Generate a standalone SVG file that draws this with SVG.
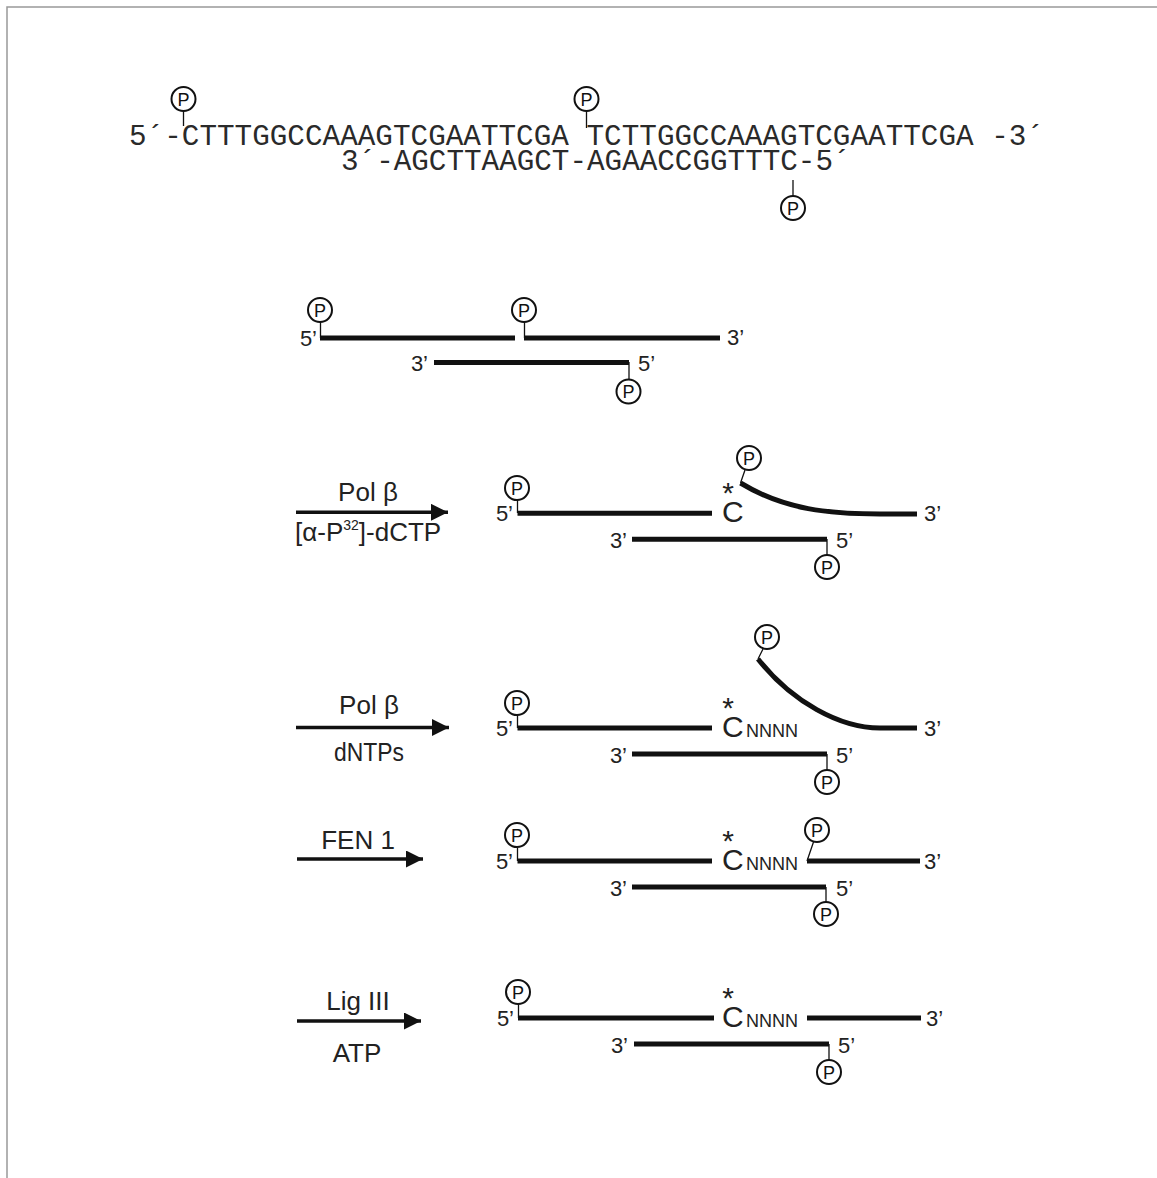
<svg xmlns="http://www.w3.org/2000/svg" xmlns:xlink="http://www.w3.org/1999/xlink" width="1157" height="1178" viewBox="0 0 1157 1178">
<style>
.seq{font-family:"Liberation Mono","Courier New",monospace;font-size:29.3px;fill:#2a2a2a}
.lbl{font-family:"Liberation Sans",Arial,sans-serif;font-size:22px;fill:#222}
.big{font-family:"Liberation Sans",Arial,sans-serif;font-size:26px;fill:#222}
.cc{font-family:"Liberation Sans",Arial,sans-serif;font-size:30px;fill:#222}
.nn{font-family:"Liberation Sans",Arial,sans-serif;font-size:18px;fill:#222}
.ast{font-family:"Liberation Sans",Arial,sans-serif;font-size:30px;fill:#222;text-anchor:middle}
.pc{fill:#fff;stroke:#111;stroke-width:2}
.pt{font-family:"Liberation Sans",Arial,sans-serif;font-size:18px;text-anchor:middle;fill:#111}
.stem{stroke:#111;stroke-width:1.3;fill:none}
.strand{stroke:#111;stroke-width:5;fill:none}
.shaft{stroke:#111;stroke-width:3.5}
.mid{text-anchor:middle}
.end{text-anchor:end}
</style>
<defs>
<g id="P"><circle r="12" class="pc"/><text y="6.5" class="pt">P</text></g>
<marker id="ah" markerUnits="userSpaceOnUse" markerWidth="18" markerHeight="18" refX="17" refY="8.5" orient="auto"><path d="M0,0 L17,8.5 L0,17 z" fill="#111"/></marker>
</defs>
<rect width="1157" height="1178" fill="#fff"/>
<g id="frame" stroke="#999" stroke-width="1.5" fill="none"><path d="M7,1178 L7,7 L1157,7"/></g>

<g id="sequence">
<text class="seq" x="129" y="145" textLength="915" lengthAdjust="spacing">5´-CTTTGGCCAAAGTCGAATTCGA TCTTGGCCAAAGTCGAATTCGA -3´</text>
<text class="seq" x="341" y="170" textLength="509.6" lengthAdjust="spacing">3´-AGCTTAAGCT-AGAACCGGTTTC-5´</text>
<path class="stem" d="M183.5,111 V126 M586.5,111 V128 M793,180 V196"/>
<use xlink:href="#P" x="183.5" y="99"/>
<use xlink:href="#P" x="586.5" y="99"/>
<use xlink:href="#P" x="793" y="208"/>
</g>

<g id="row1">
<path class="strand" d="M320,338 H515 M524,338 H720 M434,362.5 H629"/>
<path class="stem" d="M320.5,322 V338 M524.5,322 V338 M629,362 V380"/>
<use xlink:href="#P" x="320" y="310"/>
<use xlink:href="#P" x="524" y="310"/>
<use xlink:href="#P" x="628.5" y="391.5"/>
<text class="lbl end" x="317" y="346">5’</text>
<text class="lbl" x="727" y="345">3’</text>
<text class="lbl end" x="428" y="371">3’</text>
<text class="lbl" x="638" y="371">5’</text>
</g>

<g id="connectors">
<line class="shaft" x1="296" y1="512.3" x2="448" y2="512.3" marker-end="url(#ah)"/>
<line class="shaft" x1="296" y1="727.5" x2="449" y2="727.5" marker-end="url(#ah)"/>
<line class="shaft" x1="297" y1="859" x2="423" y2="859" marker-end="url(#ah)"/>
<line class="shaft" x1="297" y1="1021" x2="421" y2="1021" marker-end="url(#ah)"/>
</g>

<g id="step1-label">
<text class="big mid" x="368" y="501">Pol β</text>
<text class="big" x="295" y="541">[α-P<tspan font-size="14" dy="-11">32</tspan><tspan dy="11">]-dCTP</tspan></text>
</g>
<g id="row2">
<path class="strand" d="M517.5,513.3 H712 M632,539.3 H827"/>
<path class="strand" d="M740.5,483 C785,510 830,514 880,514 L917,514"/>
<path class="stem" d="M517.5,500 V513 M827,539 V555 M745,470 L740.5,483"/>
<use xlink:href="#P" x="517" y="488"/>
<use xlink:href="#P" x="749" y="458"/>
<use xlink:href="#P" x="827" y="567"/>
<text class="lbl end" x="513" y="521">5’</text>
<text class="ast" x="728" y="503">*</text>
<text class="cc" x="722" y="522">C</text>
<text class="lbl" x="924" y="521">3’</text>
<text class="lbl end" x="627" y="548">3’</text>
<text class="lbl" x="836" y="548">5’</text>
</g>

<g id="step2-label">
<text class="big mid" x="369" y="714">Pol β</text>
<text class="big mid" x="369" y="761" transform="translate(369 0) scale(0.88 1) translate(-369 0)">dNTPs</text>
</g>
<g id="row3">
<path class="strand" d="M517.5,728 H712 M632,754 H827"/>
<path class="strand" d="M758,659 C792,702 840,728 880,728 L917,728"/>
<path class="stem" d="M517.5,715 V728 M827,754 V770 M763,649 L758,659"/>
<use xlink:href="#P" x="517" y="703"/>
<use xlink:href="#P" x="767" y="637"/>
<use xlink:href="#P" x="827" y="782"/>
<text class="lbl end" x="513" y="736">5’</text>
<text class="ast" x="728" y="718">*</text>
<text class="cc" x="722" y="737">C</text>
<text class="nn" x="746" y="737">NNNN</text>
<text class="lbl" x="924" y="736">3’</text>
<text class="lbl end" x="627" y="763">3’</text>
<text class="lbl" x="836" y="763">5’</text>
</g>

<g id="step3-label">
<text class="big mid" x="358" y="849" font-size="28">FEN 1</text>
</g>
<g id="row4">
<path class="strand" d="M517.5,861 H712 M807,861 H920 M632,887 H826"/>
<path class="stem" d="M517.5,848 V861 M826,887 V902 M813.5,842 L807,861"/>
<use xlink:href="#P" x="517" y="835"/>
<use xlink:href="#P" x="817" y="830"/>
<use xlink:href="#P" x="826" y="914"/>
<text class="lbl end" x="513" y="869">5’</text>
<text class="ast" x="728" y="851">*</text>
<text class="cc" x="722" y="870">C</text>
<text class="nn" x="746" y="870">NNNN</text>
<text class="lbl" x="924" y="869">3’</text>
<text class="lbl end" x="627" y="896">3’</text>
<text class="lbl" x="836" y="896">5’</text>
</g>

<g id="step4-label">
<text class="big mid" x="358" y="1010" font-size="28">Lig III</text>
<text class="big mid" x="357" y="1062" font-size="28">ATP</text>
</g>
<g id="row5">
<path class="strand" d="M518,1018 H714 M807,1018 H921 M634,1044 H829"/>
<path class="stem" d="M518.5,1004 V1018 M829,1044 V1060"/>
<use xlink:href="#P" x="518" y="992"/>
<use xlink:href="#P" x="829" y="1072"/>
<text class="lbl end" x="514" y="1026">5’</text>
<text class="ast" x="728" y="1008">*</text>
<text class="cc" x="722" y="1027">C</text>
<text class="nn" x="746" y="1027">NNNN</text>
<text class="lbl" x="926" y="1026">3’</text>
<text class="lbl end" x="628" y="1053">3’</text>
<text class="lbl" x="838" y="1053">5’</text>
</g>
</svg>
